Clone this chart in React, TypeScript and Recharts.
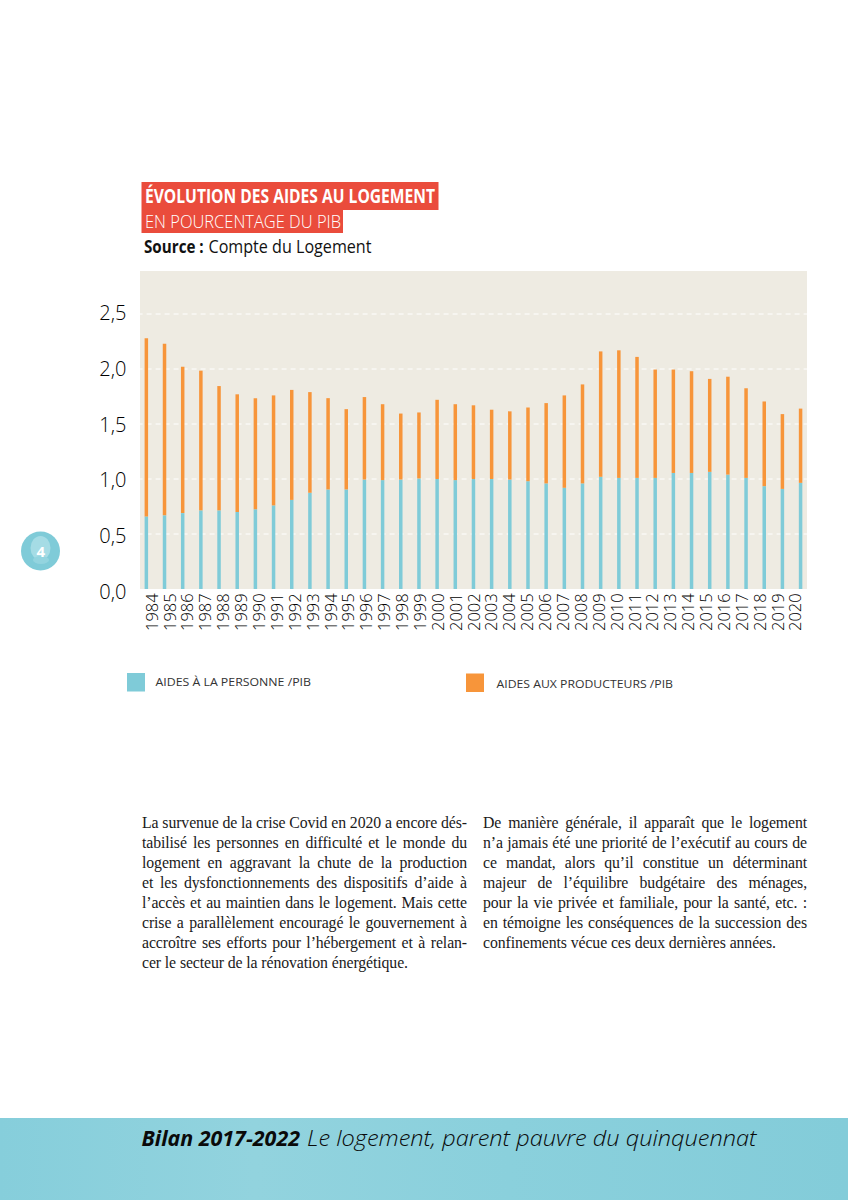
import { Bar, BarChart, CartesianGrid, XAxis, YAxis } from "recharts";

const years = [
  "1984", "1985", "1986", "1987", "1988", "1989", "1990", "1991", "1992", "1993",
  "1994", "1995", "1996", "1997", "1998", "1999", "2000", "2001", "2002", "2003",
  "2004", "2005", "2006", "2007", "2008", "2009", "2010", "2011", "2012", "2013",
  "2014", "2015", "2016", "2017", "2018", "2019", "2020",
];
const personne = [
  0.66, 0.67, 0.69, 0.715, 0.715, 0.7, 0.725, 0.76, 0.81, 0.875,
  0.905, 0.905, 0.995, 0.99, 0.995, 1.005, 1.0, 0.99, 1.0, 1.0,
  0.995, 0.98, 0.96, 0.92, 0.96, 1.02, 1.01, 1.01, 1.01, 1.055,
  1.055, 1.065, 1.04, 1.01, 0.935, 0.91, 0.965,
];
const producteurs = [
  1.62, 1.56, 1.33, 1.27, 1.13, 1.07, 1.01, 1.0, 1.0, 0.915,
  0.83, 0.73, 0.75, 0.69, 0.6, 0.6, 0.72, 0.69, 0.67, 0.63,
  0.62, 0.67, 0.73, 0.84, 0.9, 1.14, 1.16, 1.1, 0.985, 0.94,
  0.925, 0.845, 0.89, 0.815, 0.77, 0.68, 0.675,
];
const yTicks = [0, 0.5, 1, 1.5, 2, 2.5];
const gridValues = [0.5, 1, 1.5, 2, 2.5];

const leftColumn = [
  "La survenue de la crise Covid en 2020 a encore dés-",
  "tabilisé les personnes en difficulté et le monde du",
  "logement en aggravant la chute de la production",
  "et les dysfonctionnements des dispositifs d’aide à",
  "l’accès et au maintien dans le logement. Mais cette",
  "crise a parallèlement encouragé le gouvernement à",
  "accroître ses efforts pour l’hébergement et à relan-",
  "cer le secteur de la rénovation énergétique.",
];
const rightColumn = [
  "De manière générale, il apparaît que le logement",
  "n’a jamais été une priorité de l’exécutif au cours de",
  "ce mandat, alors qu’il constitue un déterminant",
  "majeur de l’équilibre budgétaire des ménages,",
  "pour la vie privée et familiale, pour la santé, etc. :",
  "en témoigne les conséquences de la succession des",
  "confinements vécue ces deux dernières années.",
];

const data = years.map((year, i) => ({
  year,
  personne: personne[i],
  producteurs: producteurs[i],
}));

const TEAL = "#7fcbd8";
const ORANGE = "#f7953a";
const RED = "#ea4c3c";
const SANS = "'Open Sans', 'Noto Sans', sans-serif";
const SERIF = "'Liberation Serif', serif";

function YTick({ y, payload }: any) {
  // les labels de l'original ne sont pas tout à fait alignés sur la grille
  return (
    <text x={126.5} y={y + 10 - payload.value * 1.6} textAnchor="end" fontFamily={SANS} fontSize={20} fontWeight={300} fill="#000">
      {payload.value.toFixed(1).replace(".", ",")}
    </text>
  );
}

function XTick({ x, payload, index }: any) {
  const px = x + 11 - index * 0.29;
  return (
    <text transform={`translate(${px},631) rotate(-90)`} fontFamily={SANS} fontSize={16.5} fontWeight={300} fill="#000">
      {payload.value}
    </text>
  );
}

function Paragraph({ lines, left, width }: { lines: string[]; left: number; width: number }) {
  return (
    <div style={{ position: "absolute", left, top: 813, width, fontFamily: SERIF, fontSize: 15.8, letterSpacing: -0.1, lineHeight: "20px", color: "#1a1a1a" }}>
      {lines.map((line, i) => (
        <div
          key={i}
          style={{
            whiteSpace: "nowrap",
            textAlign: "justify",
            textAlignLast: i === lines.length - 1 ? "left" : "justify",
          }}
        >
          {line}
        </div>
      ))}
    </div>
  );
}

export default function App() {
  return (
    <div style={{ position: "absolute", left: 0, top: 0, width: 848, height: 1200, overflow: "hidden", background: "#fff" }}>
      <svg width={848} height={1200} style={{ position: "absolute", left: 0, top: 0 }}>
        <defs>
          <linearGradient id="foot" x1="0" y1="0" x2="1" y2="0">
            <stop offset="0" stopColor="#86cedb" />
            <stop offset="0.3" stopColor="#92d3de" />
            <stop offset="0.6" stopColor="#8ad0dc" />
            <stop offset="1" stopColor="#83ccd9" />
          </linearGradient>
        </defs>

        <rect x={141.5} y={182} width={297} height={28} fill={RED} />
        <rect x={141.5} y={210} width={201.5} height={23} fill={RED} />
        <text x={145} y={203} fontFamily={SANS} fontSize={20} fontWeight={700} fill="#fff" textLength={290} lengthAdjust="spacingAndGlyphs">
          ÉVOLUTION DES AIDES AU LOGEMENT
        </text>
        <text x={145} y={228} fontFamily={SANS} fontSize={19} fontWeight={300} fill="#fff" textLength={196} lengthAdjust="spacingAndGlyphs">
          EN POURCENTAGE DU PIB
        </text>
        <text transform="translate(144,252.5) scale(1,1.2)" fontFamily={SANS} fontSize={15.2} fontWeight={700} fill="#111">
          Source :
        </text>
        <text x={208.5} y={252.5} fontFamily={SANS} fontSize={18.5} fontWeight={400} fill="#111" textLength={163} lengthAdjust="spacingAndGlyphs">
          Compte du Logement
        </text>

        <rect x={140} y={271} width={667} height={318} fill="#eeebe2" />

        <rect x={127} y={673} width={18} height={18.5} fill={TEAL} />
        <text x={155.5} y={686} fontFamily={SANS} fontSize={11.5} fill="#333" textLength={155.5} lengthAdjust="spacingAndGlyphs">
          AIDES À LA PERSONNE /PIB
        </text>
        <rect x={466} y={673.5} width={18} height={18.5} fill={ORANGE} />
        <text x={496.5} y={687.5} fontFamily={SANS} fontSize={11.5} fill="#333" textLength={176.5} lengthAdjust="spacingAndGlyphs">
          AIDES AUX PRODUCTEURS /PIB
        </text>

        <circle cx={40.5} cy={551} r={19.5} fill={TEAL} />
        <ellipse cx={40.5} cy={548} rx={10} ry={12} fill="#a5dce5" />
        <ellipse cx={41} cy={560} rx={8} ry={4} fill="#93d4df" />
        <text x={40.7} y={557} textAnchor="middle" fontFamily={SANS} fontSize={15} fontWeight={700} fill="#fff">
          4
        </text>

        <rect x={0} y={1118} width={848} height={82} fill="url(#foot)" />
        <text x={141.5} y={1146} fontFamily={SANS} fontSize={22} fontWeight={700} fontStyle="italic" fill="#0a0a0a" textLength={158.5} lengthAdjust="spacingAndGlyphs">
          Bilan 2017-2022
        </text>
        <text x={307} y={1146} fontFamily={SANS} fontSize={22} fontWeight={300} fontStyle="italic" fill="#0a0a0a" textLength={449.5} lengthAdjust="spacingAndGlyphs">
          Le logement, parent pauvre du quinquennat
        </text>
      </svg>

      <div style={{ position: "absolute", left: 0, top: 0 }}>
        <BarChart width={848} height={640} data={data} margin={{ top: 271, right: 38, bottom: 0, left: 0 }} barSize={3.5}>
          <CartesianGrid vertical={false} horizontalValues={gridValues} stroke="#ffffff" strokeDasharray="5 4" />
          <XAxis dataKey="year" interval={0} height={51} axisLine={false} tickLine={false} tick={<XTick />} />
          <YAxis type="number" domain={[0, 2.891]} ticks={yTicks} width={137.6} axisLine={false} tickLine={false} tick={<YTick />} />
          <Bar dataKey="personne" stackId="a" fill={TEAL} isAnimationActive={false} />
          <Bar dataKey="producteurs" stackId="a" fill={ORANGE} isAnimationActive={false} />
        </BarChart>
      </div>

      <Paragraph lines={leftColumn} left={142} width={325} />
      <Paragraph lines={rightColumn} left={483} width={324} />
    </div>
  );
}
